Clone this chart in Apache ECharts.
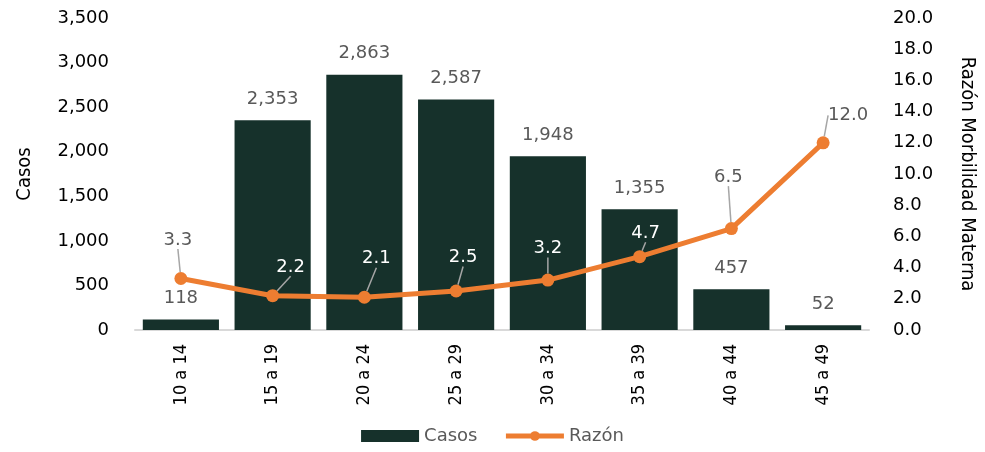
<!DOCTYPE html>
<html>
<head>
<meta charset="utf-8">
<script src="https://cdn.jsdelivr.net/npm/echarts@6/dist/echarts.min.js"></script>
<style>
  html, body { margin: 0; padding: 0; background: #fff; }
  #main { width: 985px; height: 452px; }
</style>
</head>
<body>
<div id="main"></div>
<script>
var categories = ['10 a 14', '15 a 19', '20 a 24', '25 a 29', '30 a 34', '35 a 39', '40 a 44', '45 a 49'];
var casos = [118, 2353, 2863, 2587, 1948, 1355, 457, 52];
var razon = [3.3, 2.2, 2.1, 2.5, 3.2, 4.7, 6.5, 12.0];

// label tweaks for the line (label colour on/off the bars, nudges)
var onBar = [false, true, true, true, true, true, false, false];
var labelShift = [[-3, -18], [18, -8], [12, -18], [7, -13], [0, -11], [6, -3], [-3, -31], [25, -7]];

var app = echarts.init(document.getElementById('main'));

var narrow = '"DejaVu Sans Condensed", "DejaVu Sans", sans-serif';
var tickFont = { color: '#000', fontSize: 18, fontFamily: 'DejaVu Sans' };

option = {
    animation: false,
    grid: { left: 135, right: 114, top: 18, bottom: 122 },
    legend: {
        bottom: 2,
        left: 'center',
        itemGap: 26,
        textStyle: { color: '#595959', fontSize: 18, fontFamily: 'DejaVu Sans' },
        data: [
            { name: 'Casos', icon: 'rect', itemHeight: 10 },
            { name: 'Razón', lineStyle: { width: 5 } }
        ],
        itemWidth: 58,
        itemHeight: 12
    },
    xAxis: {
        type: 'category',
        data: categories,
        axisLine: { lineStyle: { color: '#d9d9d9', width: 2 } },
        axisTick: { show: false },
        axisLabel: {
            rotate: 90,
            margin: 14,
            color: '#000',
            fontSize: 18,
            fontFamily: narrow
        }
    },
    yAxis: [{
        type: 'value',
        name: 'Casos',
        nameLocation: 'middle',
        nameGap: 100,
        nameTextStyle: { color: '#000', fontSize: 20, fontFamily: narrow },
        min: 0,
        max: 3500,
        interval: 500,
        splitLine: { show: false },
        axisLine: { show: false },
        axisLabel: Object.assign({
            margin: 26,
            formatter: function(v) { return v.toLocaleString('en-US'); }
        }, tickFont)
    }, {
        type: 'value',
        name: 'Razón Morbilidad Materna',
        nameLocation: 'middle',
        nameGap: 88,
        nameRotate: -90,
        nameTextStyle: { color: '#000', fontSize: 20, fontFamily: narrow },
        min: 0,
        max: 20,
        interval: 2,
        splitLine: { show: false },
        axisLine: { show: false },
        axisLabel: Object.assign({
            margin: 24,
            formatter: function(v) { return v.toFixed(1); }
        }, tickFont)
    }],
    series: [{
        name: 'Casos',
        type: 'bar',
        data: casos,
        barWidth: '83%',
        itemStyle: { color: '#16312b' },
        label: {
            show: true,
            position: 'top',
            distance: 12,
            color: '#595959',
            fontSize: 18,
            fontFamily: 'DejaVu Sans',
            formatter: function(p) { return p.value.toLocaleString('en-US'); }
        }
    }, {
        name: 'Razón',
        type: 'line',
        yAxisIndex: 1,
        data: razon.map(function(v, i) {
            return {
                value: v,
                label: { color: onBar[i] ? '#ffffff' : '#595959' }
            };
        }),
        symbol: 'circle',
        symbolSize: 13,
        lineStyle: { color: '#ed7d31', width: 5 },
        itemStyle: { color: '#ed7d31' },
        label: {
            show: true,
            position: 'top',
            distance: 5,
            fontSize: 18,
            fontFamily: 'DejaVu Sans',
            formatter: function(p) { return p.value.toFixed(1); }
        },
        labelLine: {
            show: true,
            lineStyle: { color: '#a6a6a6', width: 1.5 }
        },
        labelLayout: function(p) {
            var s = labelShift[p.dataIndex];
            return { dx: s[0], dy: s[1] };
        }
    }]
};

app.setOption(option);
</script>
</body>
</html>
